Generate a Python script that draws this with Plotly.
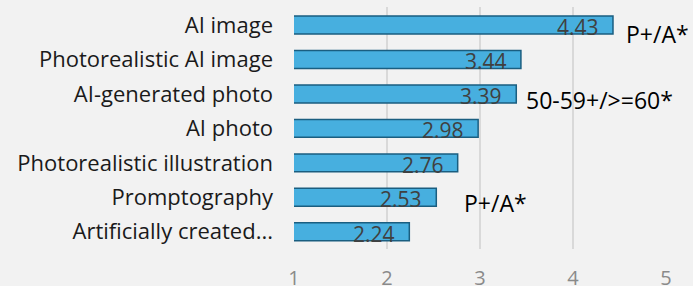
import plotly.graph_objects as go

categories = ["AI image", "Photorealistic AI image", "AI-generated photo", "AI photo",
              "Photorealistic illustration", "Promptography", "Artificially created..."]
values = [4.43, 3.44, 3.39, 2.98, 2.76, 2.53, 2.24]
x_ticks = [1, 2, 3, 4, 5]

notes = ["P+/A*", "50-59+/>=60*", "P+/A*"]
note_x = [4.58, 3.505, 2.84]
note_y = [0.26, 2.17, 5.16]

FONT = "Open Sans"

fig = go.Figure()
fig.add_trace(go.Bar(
    x=values, y=categories, orientation="h",
    marker=dict(color="#47AFDF", line=dict(color="#1A5E80", width=1.5)),
    hoverinfo="skip",
))

annotations = []
for c, v in zip(categories, values):
    annotations.append(dict(x=v, y=c, xref="x", yref="y", text=f"{v:.2f}",
                            showarrow=False, xanchor="right", yanchor="middle",
                            xshift=-12, yshift=-2,
                            font=dict(family=FONT, size=21, color="#404040")))
for t, nx, ny in zip(notes, note_x, note_y):
    annotations.append(dict(x=nx, y=ny, xref="x", yref="y", text=t,
                            showarrow=False, xanchor="left", yanchor="middle",
                            xshift=-3,
                            font=dict(family=FONT, size=23, color="#000000")))

fig.update_layout(
    width=693, height=286,
    margin=dict(l=294, r=27, t=7, b=37),
    paper_bgcolor="#F2F2F2", plot_bgcolor="#F2F2F2",
    bargap=0.48,
    showlegend=False,
    annotations=annotations,
    xaxis=dict(range=[1, 5], tickvals=x_ticks, showgrid=True, gridcolor="#D9D9D9",
               gridwidth=1.5, zeroline=False, showline=False, automargin=False,
               tickfont=dict(family=FONT, size=20, color="#8A8A8A"),
               ticklabelstandoff=15),
    yaxis=dict(categoryorder="array", categoryarray=categories, autorange="reversed",
               showgrid=False, showline=False, zeroline=False, automargin=False,
               tickfont=dict(family=FONT, size=22, color="#1A1A1A"),
               ticklabelstandoff=20),
)
fig.write_html("out.html", config={"displayModeBar": False},
               post_script="document.body.style.margin='0';document.body.style.padding='0';")
